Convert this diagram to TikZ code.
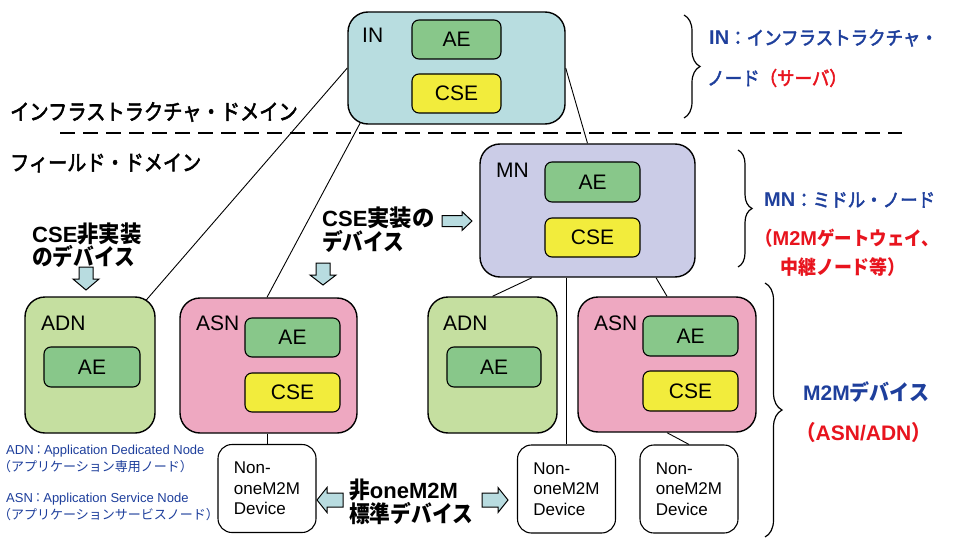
\documentclass[tikz,border=0pt]{standalone}
\usepackage{fontspec}
\usepackage{graphicx}
\setmainfont{Liberation Sans}
\setsansfont{Liberation Sans}
\newfontfamily\jp{Noto Sans CJK JP}
\newfontfamily\jpm[FakeBold=2.5]{Noto Sans CJK JP}
\newcommand\jsq[2][0.92]{\scalebox{#1}[1]{#2}}
\usetikzlibrary{calc,decorations.pathreplacing}
\pgfdeclarelayer{background}
\pgfsetlayers{background,main}
\definecolor{incol}{HTML}{B8DDE0}
\definecolor{aecol}{HTML}{88C78A}
\definecolor{csecol}{HTML}{F2EC3C}
\definecolor{mncol}{HTML}{CBCCE7}
\definecolor{adncol}{HTML}{C5DFA0}
\definecolor{asncol}{HTML}{EEA8C1}
\definecolor{arrcol}{HTML}{B8DCE0}
\definecolor{jblue}{HTML}{1E3F9C}
\definecolor{jred}{HTML}{E8141E}
\begin{document}
\begin{tikzpicture}[x=1pt,y=-1pt,
  outerbox/.style={draw=black, line width=1.4pt, rounded corners=20pt, inner sep=0pt},
  innerbox/.style={draw=black, line width=1.1pt, rounded corners=7pt, inner sep=0pt, font=\fontsize{21}{24}\selectfont},
  aebox/.style={innerbox, fill=aecol},
  csebox/.style={innerbox, fill=csecol},
  devbox/.style={draw=black, line width=1.1pt, rounded corners=14pt, fill=white, inner sep=0pt,
    minimum width=98pt, minimum height=88pt, align=left, font=\fontsize{17}{20.5}\selectfont},
  boxlbl/.style={anchor=west, inner sep=0pt, font=\fontsize{21}{24}\selectfont},
  conn/.style={draw=black, line width=0.9pt},
  blk/.style={draw=black, line width=1pt, fill=arrcol, line join=miter},
  jtxt/.style={anchor=west, inner sep=0pt, align=left},
  brc/.style={draw=black, line width=1.2pt, decorate},
]
\useasboundingbox (0,0) rectangle (960,540);
\begin{pgfonlayer}{background}
\fill[white] (0,0) rectangle (960,540);
\end{pgfonlayer}

% IN
\node[outerbox, fill=incol, minimum width=217pt, minimum height=112pt] (IN) at (456.5,68) {};
\node[boxlbl] (INl) at (362,35) {IN};
\node[aebox, minimum width=89pt, minimum height=39pt] (INae) at (456.5,39.5) {AE};
\node[csebox, minimum width=89pt, minimum height=39pt] (INcse) at (456.5,93.5) {CSE};

% MN
\node[outerbox, fill=mncol, minimum width=215pt, minimum height=133pt] (MN) at (587.5,210.5) {};
\node[boxlbl] (MNl) at (496,170) {MN};
\node[aebox, minimum width=95pt, minimum height=40pt] (MNae) at (592.5,182) {AE};
\node[csebox, minimum width=95pt, minimum height=39pt] (MNcse) at (592.5,237.5) {CSE};

% ADN left
\node[outerbox, fill=adncol, minimum width=130pt, minimum height=136pt] (ADNL) at (90,365) {};
\node[boxlbl] (ADNLl) at (41,323) {ADN};
\node[aebox, minimum width=96pt, minimum height=40pt] (ADNLae) at (92,367) {AE};

% ASN left
\node[outerbox, fill=asncol, minimum width=177pt, minimum height=135pt] (ASNL) at (268.5,365.5) {};
\node[boxlbl] (ASNLl) at (196,323) {ASN};
\node[aebox, minimum width=95pt, minimum height=39pt] (ASNLae) at (292.5,337.5) {AE};
\node[csebox, minimum width=95pt, minimum height=39pt] (ASNLcse) at (292.5,392.5) {CSE};

% ADN middle
\node[outerbox, fill=adncol, minimum width=129pt, minimum height=136pt] (ADNM) at (492.5,365) {};
\node[boxlbl] (ADNMl) at (443,323) {ADN};
\node[aebox, minimum width=94pt, minimum height=40pt] (ADNMae) at (494,367) {AE};

% ASN right
\node[outerbox, fill=asncol, minimum width=178pt, minimum height=135pt] (ASNR) at (667,364.5) {};
\node[boxlbl] (ASNRl) at (594,323) {ASN};
\node[aebox, minimum width=95pt, minimum height=40pt] (ASNRae) at (690.5,336) {AE};
\node[csebox, minimum width=95pt, minimum height=40pt] (ASNRcse) at (690.5,391) {CSE};

% Non-oneM2M devices
\node[devbox] (DevL) at (267,488.5) {Non-\\oneM2M\\Device};
\node[devbox] (DevM) at (566.5,489) {Non-\\oneM2M\\Device};
\node[devbox] (DevR) at (689,489) {Non-\\oneM2M\\Device};

% connectors
\begin{pgfonlayer}{background}
\draw[conn] (IN.west) -- (ADNL.center);
\draw[conn] ($(IN.south west)+(22.7,-20)$) -- ($(ASNL.north)+(-1.5,0)$);
\draw[conn] (IN.east) -- (MN.north);
\draw[conn] ($(MN.south)+(-55.5,0)$) -- (ADNM.north);
\draw[conn] (DevM.north |- MN.south) -- (DevM.north);
\draw[conn] ($(MN.south)+(68.5,0)$) -- (ASNR.north);
\draw[conn] (ASNR.south) -- (DevR.north);
\draw[conn] (DevL.north |- ASNL.south) -- (DevL.north);
\end{pgfonlayer}

% domain separator
\draw[line width=2.6pt, dash pattern=on 15pt off 8pt] (60,133) -- (902,133);
\node[jtxt, font=\jpm\fontsize{22}{24}\selectfont] (hInfra) at (10,112) {\jsq[0.875]{インフラストラクチャ・ドメイン}};
\node[jtxt, font=\jpm\fontsize{22}{24}\selectfont] (hField) at (10,163) {\jsq[0.87]{フィールド・ドメイン}};

% bold captions
\node[jtxt, font=\bfseries\fontsize{22}{23}\selectfont] (tNoCSE) at (32,245) {CSE{\jp\fontsize{23}{23}\selectfont\jsq[0.93]{非実装}}\\{\jp\fontsize{23}{23}\selectfont\jsq[0.9]{のデバイス}}};
\node[jtxt, font=\bfseries\fontsize{22}{24.5}\selectfont] (tCSE) at (322,229.5) {CSE{\jp\fontsize{23}{23}\selectfont\jsq[0.97]{実装の}}\\{\jp\fontsize{23}{23}\selectfont\jsq[0.9]{デバイス}}};
\node[jtxt, font=\bfseries\fontsize{22}{22}\selectfont] (tNon) at (349,502) {{\jp\fontsize{23}{23}\selectfont\jsq[0.9]{非}}oneM2M\\{\jp\fontsize{23}{23}\selectfont\jsq[0.9]{標準デバイス}}};

% block arrows
\draw[blk] (79,267) -- (93,267) -- (93,279) -- (99,279) -- (86,290) -- (73,279) -- (79,279) -- cycle;
\draw[blk] (316,263) -- (330,263) -- (330,275) -- (336,275) -- (323,285) -- (310,275) -- (316,275) -- cycle;
\draw[blk] (442,215.5) -- (462,215.5) -- (462,211.5) -- (472,221) -- (462,230.5) -- (462,226.5) -- (442,226.5) -- cycle;
\draw[blk] (343,493) -- (327,493) -- (327,487.5) -- (317,500) -- (327,512.5) -- (327,507) -- (343,507) -- cycle;
\draw[blk] (482,493) -- (498,493) -- (498,487.5) -- (508,500) -- (498,512.5) -- (498,507) -- (482,507) -- cycle;

% braces
\draw[brc, decoration={brace, amplitude=16pt}] (684,15) -- (684,118);
\draw[brc, decoration={brace, amplitude=14pt}] (738,150) -- (738,267);
\draw[brc, decoration={brace, amplitude=17pt}] (765,283) -- (765,537);

% right-hand labels
\node[jtxt, text=jblue, font=\jpm\fontsize{19}{20}\selectfont] (rIN1) at (709,38) {{\fontspec{Liberation Sans}\bfseries\fontsize{20}{20}\selectfont IN}\jsq{：インフラストラクチャ・}};
\node[jtxt, text=jblue, font=\jpm\fontsize{19}{20}\selectfont] (rIN2) at (707,78) {\jsq{ノード\textcolor{jred}{（サーバ）}}};
\node[jtxt, text=jblue, font=\jpm\fontsize{19}{20}\selectfont] (rMN1) at (764,200) {{\fontspec{Liberation Sans}\bfseries\fontsize{20}{20}\selectfont MN}\jsq{：ミドル・ノード}};
\node[jtxt, text=jred, font=\bfseries\fontsize{20}{20}\selectfont] (rMN2) at (755,238) {{\jp\fontsize{19}{20}\selectfont\jsq{（}}M2M{\jp\fontsize{19}{20}\selectfont\jsq{ゲートウェイ、}}};
\node[jtxt, text=jred, font=\bfseries\jp\fontsize{19.5}{20}\selectfont] (rMN3) at (780,267) {\jsq{中継ノード等）}};
\node[jtxt, text=jblue, font=\bfseries\fontsize{21}{22}\selectfont] (rDev1) at (803,392) {M2M{\jp\fontsize{21.5}{22}\selectfont\jsq[0.93]{デバイス}}};
\node[jtxt, text=jred, font=\bfseries\fontsize{21}{22}\selectfont] (rDev2) at (796,433) {{\jp\fontsize{21}{22}\selectfont\jsq[0.93]{（}}ASN/ADN{\jp\fontsize{21}{22}\selectfont\jsq[0.93]{）}}};

% glossary
\node[jtxt, text=jblue, font=\fontsize{13}{15}\selectfont] (sADN1) at (6,451) {ADN{\jp\jsq[0.8]{：}}Application Dedicated Node};
\node[jtxt, text=jblue, font=\jp\fontsize{13}{15}\selectfont] (sADN2) at (-2,467) {（アプリケーション専用ノード）};
\node[jtxt, text=jblue, font=\fontsize{13}{15}\selectfont] (sASN1) at (6,499) {ASN{\jp\jsq[0.8]{：}}Application Service Node};
\node[jtxt, text=jblue, font=\jp\fontsize{13}{15}\selectfont] (sASN2) at (-2,515) {（アプリケーションサービスノード）};
\end{tikzpicture}
\end{document}
